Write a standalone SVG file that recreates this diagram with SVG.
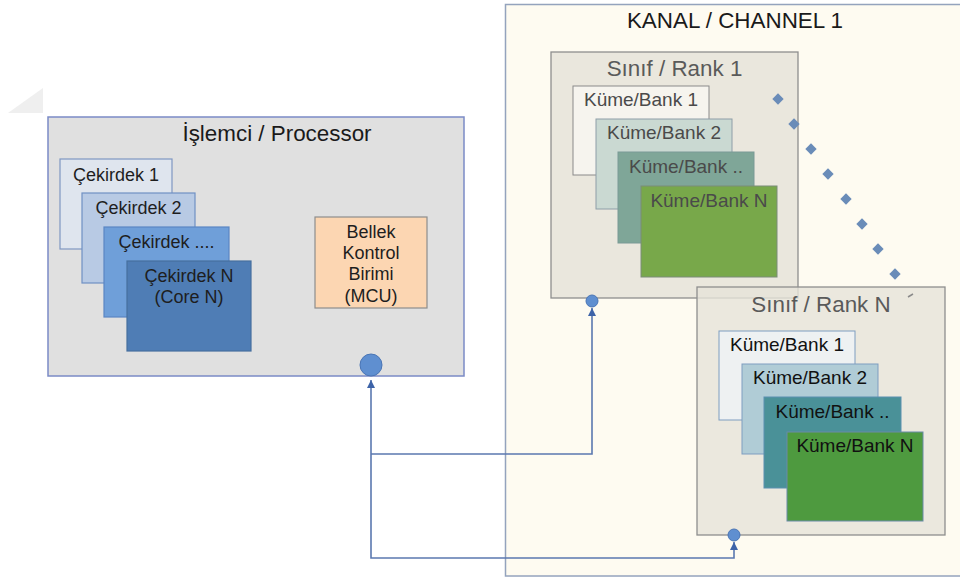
<svg xmlns="http://www.w3.org/2000/svg" width="960" height="578" viewBox="0 0 960 578">
<defs>
<style>
text{font-family:"Liberation Sans",Arial,sans-serif;text-anchor:middle}
.title{font-size:22.4px;fill:#1a1a1a}
.rt{font-size:22.4px;fill:#5a5a5a}
.core{font-size:18px;fill:#1e1e1e}
.bank1{font-size:19px;fill:#4a4a4a}
.bankN{font-size:19px;fill:#111}
.conn{fill:none;stroke:#5b78b0;stroke-width:1.6}
.port{fill:#5f8fd0;stroke:#4a75b5;stroke-width:1}
.dot{fill:#6a8cb8}
</style>
<marker id="arr" viewBox="0 0 10 10" refX="10" refY="5" markerWidth="8" markerHeight="8" markerUnits="userSpaceOnUse" orient="auto">
<path d="M0,0 L10,5 L0,10 z" fill="#3d63a8"/>
</marker>
</defs>
<rect width="960" height="578" fill="#ffffff"/>
<polygon points="43,88 8,113 43,113" fill="#efefef"/>

<g id="channel">
<rect x="505.5" y="4.5" width="470" height="571.5" fill="#fefbf1" stroke="#94a3bd" stroke-width="1.5"/>
<text class="title" x="735" y="28">KANAL / CHANNEL 1</text>
</g>

<g id="processor">
<rect x="48" y="117" width="416" height="259" fill="#e0e0e0" stroke="#7b8bc6" stroke-width="1.5"/>
<text class="title" x="277" y="141">İşlemci / Processor</text>
</g>
<g id="core1">
<rect x="60" y="159" width="112" height="90" fill="#dfe5ee" stroke="#7f97c2" stroke-width="1.2"/>
<text class="core" x="116" y="181">Çekirdek 1</text>
</g>
<g id="core2">
<rect x="82" y="193" width="113" height="90" fill="#b8cae4" stroke="#6f90c4" stroke-width="1.2"/>
<text class="core" x="138.5" y="214">Çekirdek 2</text>
</g>
<g id="core3">
<rect x="104" y="227" width="125" height="90" fill="#6f9fd9" stroke="#5a86c4" stroke-width="1.2"/>
<text class="core" x="166.5" y="248">Çekirdek ....</text>
</g>
<g id="coreN">
<rect x="127" y="261" width="124" height="90" fill="#4f7db5" stroke="#466f9e" stroke-width="1.2"/>
<text class="core" x="189" y="282">Çekirdek N</text>
<text class="core" x="189" y="303">(Core N)</text>
</g>
<g id="mcu">
<rect x="315" y="217" width="112" height="91" fill="#fcd6b2" stroke="#8d8d8d" stroke-width="1.2"/>
<text class="core" x="371" y="238">Bellek</text>
<text class="core" x="371" y="259">Kontrol</text>
<text class="core" x="371" y="280">Birimi</text>
<text class="core" x="371" y="302">(MCU)</text>
</g>

<g id="rank1">
<rect x="551" y="52" width="247" height="246" fill="#e3e0d6" fill-opacity="0.75" stroke="#8e8e8e" stroke-width="1.3"/>
<text class="rt" x="674.5" y="76">Sınıf / Rank 1</text>
</g>
<g id="r1bank1">
<rect x="573" y="86" width="136" height="89" fill="#f6f4ee" stroke="#8a8a8a" stroke-width="1"/>
<text class="bank1" x="641" y="106">Küme/Bank 1</text>
</g>
<g id="r1bank2">
<rect x="596" y="119" width="136" height="90" fill="#cad9d2" stroke="#8e9ea8" stroke-width="1"/>
<text class="bank1" x="664" y="139">Küme/Bank 2</text>
</g>
<g id="r1bank3">
<rect x="618" y="152" width="136" height="91" fill="#7fa698" stroke="#7a9a96" stroke-width="1"/>
<text class="bank1" x="686" y="173">Küme/Bank ..</text>
</g>
<g id="r1bankN">
<rect x="641" y="186" width="136" height="91" fill="#78a84a" stroke="#7a8c78" stroke-width="1"/>
<text class="bank1" x="709" y="207">Küme/Bank N</text>
</g>

<g id="dots">
<rect class="dot" x="-4" y="-4" width="8" height="8" transform="translate(778,99) rotate(45)"/>
<rect class="dot" x="-4" y="-4" width="8" height="8" transform="translate(794,124) rotate(45)"/>
<rect class="dot" x="-4" y="-4" width="8" height="8" transform="translate(811,149) rotate(45)"/>
<rect class="dot" x="-4" y="-4" width="8" height="8" transform="translate(828,174) rotate(45)"/>
<rect class="dot" x="-4" y="-4" width="8" height="8" transform="translate(846,199) rotate(45)"/>
<rect class="dot" x="-4" y="-4" width="8" height="8" transform="translate(862,224) rotate(45)"/>
<rect class="dot" x="-4" y="-4" width="8" height="8" transform="translate(878,249) rotate(45)"/>
<rect class="dot" x="-4" y="-4" width="8" height="8" transform="translate(895,274) rotate(45)"/>
</g>

<g id="rankN">
<rect x="697" y="287" width="248" height="248" fill="#e6e3da" fill-opacity="0.8" stroke="#8e8e8e" stroke-width="1.3"/>
<text class="rt" x="821" y="312">Sınıf / Rank N</text>
<line x1="908" y1="297" x2="913" y2="294" stroke="#8a8a8a" stroke-width="1.5"/>
</g>
<g id="rNbank1">
<rect x="719" y="331" width="136" height="89" fill="#eef1f2" stroke="#7e9dc0" stroke-width="1"/>
<text class="bankN" x="787" y="351">Küme/Bank 1</text>
</g>
<g id="rNbank2">
<rect x="742" y="364" width="136" height="90" fill="#b0ccd6" stroke="#7e9dc0" stroke-width="1"/>
<text class="bankN" x="810" y="384">Küme/Bank 2</text>
</g>
<g id="rNbank3">
<rect x="764" y="397" width="137" height="91" fill="#4a9198" stroke="#5a8fb0" stroke-width="1"/>
<text class="bankN" x="832.5" y="418">Küme/Bank ..</text>
</g>
<g id="rNbankN">
<rect x="787" y="432" width="136" height="89" fill="#4e9a3f" stroke="#6a8aa8" stroke-width="1"/>
<text class="bankN" x="855" y="452">Küme/Bank N</text>
</g>

<g id="ports">
<circle class="port" cx="371" cy="365" r="11"/>
<circle class="port" cx="592" cy="301" r="6"/>
<circle class="port" cx="734" cy="535" r="6"/>
</g>

<g id="connectors">
<path class="conn" d="M371,454 L371,380" marker-end="url(#arr)"/>
<path class="conn" d="M371,454 L371,558 L734,558 L734,542" marker-end="url(#arr)"/>
<path class="conn" d="M371,454 L592,454 L592,308" marker-end="url(#arr)"/>
</g>
</svg>
